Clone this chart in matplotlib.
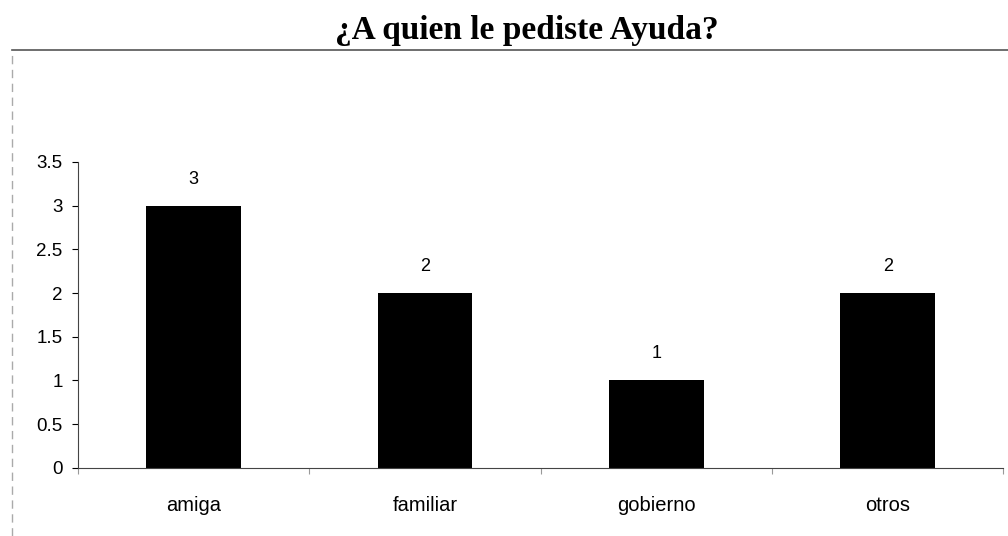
import matplotlib.pyplot as plt
from matplotlib.lines import Line2D

# data
categories = ["amiga", "familiar", "gobierno", "otros"]
values = [3, 2, 1, 2]
yticks = [0, 0.5, 1, 1.5, 2, 2.5, 3, 3.5]

plt.rcParams['font.family'] = ['Liberation Sans', 'DejaVu Sans']

fig = plt.figure(figsize=(10.08, 5.36), dpi=100)
ax = fig.add_axes([0.0774, 0.127, 0.918, 0.571])

x = list(range(len(categories)))
bars = ax.bar(x, values, width=0.41, color='black')

for xi, v in zip(x, values):
    ax.annotate(str(v), (xi, v), xytext=(0, 13), textcoords='offset points',
                ha='center', va='bottom', fontsize=13)

ax.set_xlim(-0.5, len(categories) - 0.5)
ax.set_ylim(0, 3.5)
ax.set_yticks(yticks)
ax.set_yticklabels([f"{t:g}" for t in yticks], fontsize=13.5)

# boundaries as major ticks, labels at centres
ax.set_xticks([i - 0.5 for i in range(len(categories) + 1)])
ax.set_xticklabels([])
ax.set_xticks(x, minor=True)
ax.set_xticklabels(categories, minor=True, fontsize=14.5)
ax.tick_params(axis='x', which='minor', length=0, pad=20)
ax.tick_params(axis='x', which='major', length=4, color='#999999')
ax.tick_params(axis='y', length=4, pad=7)

ax.spines['top'].set_visible(False)
ax.spines['right'].set_visible(False)
ax.spines['left'].set_color('#444444')
ax.spines['bottom'].set_color('#444444')

# outer chart frame
fig.add_artist(Line2D([0.012, 1.0], [0.907, 0.907], color='#555555', lw=1.2))
fig.add_artist(Line2D([0.012, 0.012], [0.0, 0.907], color='#aaaaaa', lw=1, ls=(0, (6, 4))))

fig.text(0.523, 0.943, "¿A quien le pediste Ayuda?", ha='center', va='center',
         fontsize=24, fontweight='bold', family=['Liberation Serif', 'DejaVu Serif'])

plt.savefig("out.png", dpi=100)
